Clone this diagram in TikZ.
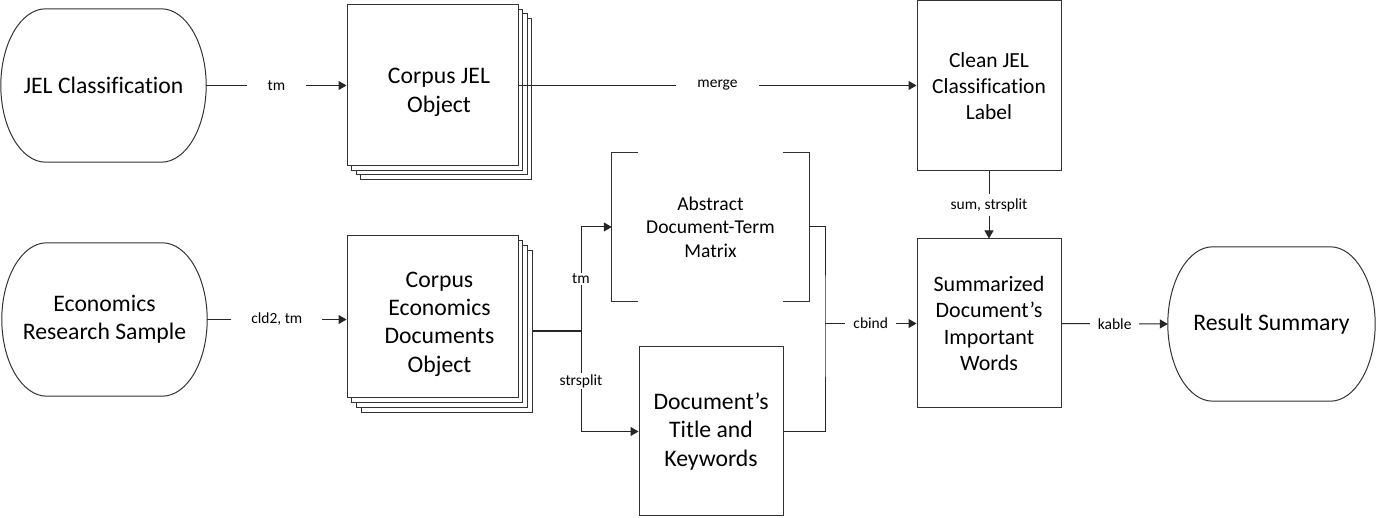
\documentclass[tikz,border=0pt]{standalone}
\usepackage{fontspec}
\setmainfont[Ligatures=NoCommon]{Carlito}
\usetikzlibrary{arrows.meta,calc}
\tikzset{
  outl/.style={draw=black!80, line width=1pt},
  boxnode/.style={outl, fill=white, rectangle, inner sep=0pt, align=center},
  termnode/.style={rectangle, inner sep=0pt, align=center, font=\fontsize{23.7}{28.4}\selectfont},
  conn/.style={draw=black!85, line width=1pt},
  arr/.style={conn, -{Triangle[length=8pt,width=9pt]}},
  lbl/.style={fill=white, inner ysep=2pt, font=\fontsize{15.5}{18}\selectfont},
  big/.style={font=\fontsize{23.7}{28.4}\selectfont},
}
\newcommand\termoutline[1]{%
  \draw[outl] ($(#1.north west)+(45,0)$) -- ($(#1.north east)+(-45,0)$)
    .. controls +(25,0) and +(0,-42) .. (#1.east)
    .. controls +(0,42) and +(25,0) .. ($(#1.south east)+(-45,0)$)
    -- ($(#1.south west)+(45,0)$)
    .. controls +(-25,0) and +(0,42) .. (#1.west)
    .. controls +(0,-42) and +(-25,0) .. ($(#1.north west)+(45,0)$) -- cycle;}
\begin{document}
\begin{tikzpicture}[x=1pt,y=-1pt]
\useasboundingbox (0,0) rectangle (1377,518);

% terminal shapes
\node[termnode, minimum width=205pt, minimum height=153pt] (jel) at (103.5,85.5) {JEL Classification};
\termoutline{jel}
\node[termnode, minimum width=205pt, minimum height=153pt] (econ) at (104.5,319.5) {Economics\\Research Sample};
\termoutline{econ}
\node[termnode, minimum width=207pt, minimum height=154pt] (result) at (1271.5,324) {Result Summary};
\termoutline{result}

% stacked Corpus JEL Object
\node[boxnode, minimum width=171pt, minimum height=161pt] (jc3) at (446,99) {};
\node[boxnode, minimum width=171pt, minimum height=161pt] (jc2) at (441.5,94.5) {};
\node[boxnode, minimum width=171pt, minimum height=161pt] (jc1) at (437,90) {};
\node[boxnode, minimum width=171pt, minimum height=161pt] (jc) at (432.5,85.5) {};
\node[big, align=center] (jctext) at (439,92.5) {Corpus JEL\\Object};

% stacked Corpus Economics Documents Object
\node[boxnode, minimum width=171pt, minimum height=162pt] (ec3) at (446.6,331.1) {};
\node[boxnode, minimum width=171pt, minimum height=162pt] (ec2) at (441.9,326.4) {};
\node[boxnode, minimum width=171pt, minimum height=162pt] (ec1) at (437.2,321.7) {};
\node[boxnode, minimum width=171pt, minimum height=162pt] (ec) at (432.5,317) {};
\node[big, align=center] (ectext) at (439.5,324) {Corpus\\Economics\\Documents\\Object};

% abstract DTM (bracket shape)
\node[rectangle, inner sep=0pt, minimum width=197pt, minimum height=148pt, align=center,
      font=\fontsize{19.6}{23.5}\selectfont] (abs) at (710.5,227) {Abstract\\Document-Term\\Matrix};
\draw[outl] ($(abs.north west)+(26,0)$) -- (abs.north west) -- (abs.south west) -- ++(26,0);
\draw[outl] ($(abs.north east)+(-26,0)$) -- (abs.north east) -- (abs.south east) -- ++(-26,0);

% other boxes
\node[boxnode, big, minimum width=144pt, minimum height=169pt] (title) at (711,431.5) {Document’s\\Title and\\Keywords};
\node[boxnode, minimum width=144pt, minimum height=170pt, font=\fontsize{21.5}{25.8}\selectfont] (clean) at (989,86) {Clean JEL\\Classification\\Label};
\node[boxnode, minimum width=144pt, minimum height=169pt, font=\fontsize{22}{26.4}\selectfont] (summ) at (989,323.5) {Summarized\\Document’s\\Important\\Words};

% connectors
\draw[arr] (jel.east) -- node[lbl, inner xsep=21pt] {tm} (jel.east -| jc.west);
\draw[arr] (econ.east) -- node[lbl, inner xsep=20pt] {cld2, tm} (econ.east -| ec.west);
\draw[arr] (jc.east) -- node[lbl, inner xsep=21pt] {merge} (jc.east -| clean.west);
\draw[arr] (clean.south) -- node[lbl, inner xsep=2pt, inner ysep=4pt] {sum, strsplit} (summ.north);

\coordinate (j) at (581,331);
\draw[conn, line width=1.8pt] (ec3.east |- j) -- (j);
\draw[arr] (j) |- node[pos=0.25, lbl, inner xsep=1pt, inner ysep=1pt] {tm} (abs.west);
\draw[arr] (j) |- node[pos=0.25, lbl, inner xsep=1pt, inner ysep=1.5pt] {strsplit} (title.west);

\coordinate (jr) at (825,323.5);
\draw[conn] (abs.east) -| (jr) |- (title.east);
\draw[arr] (jr) -- node[lbl, inner xsep=8pt] {cbind} (summ.west);
\draw[arr] (summ.east) -- node[lbl, inner xsep=8pt] {kable} (result.west);
\end{tikzpicture}
\end{document}
